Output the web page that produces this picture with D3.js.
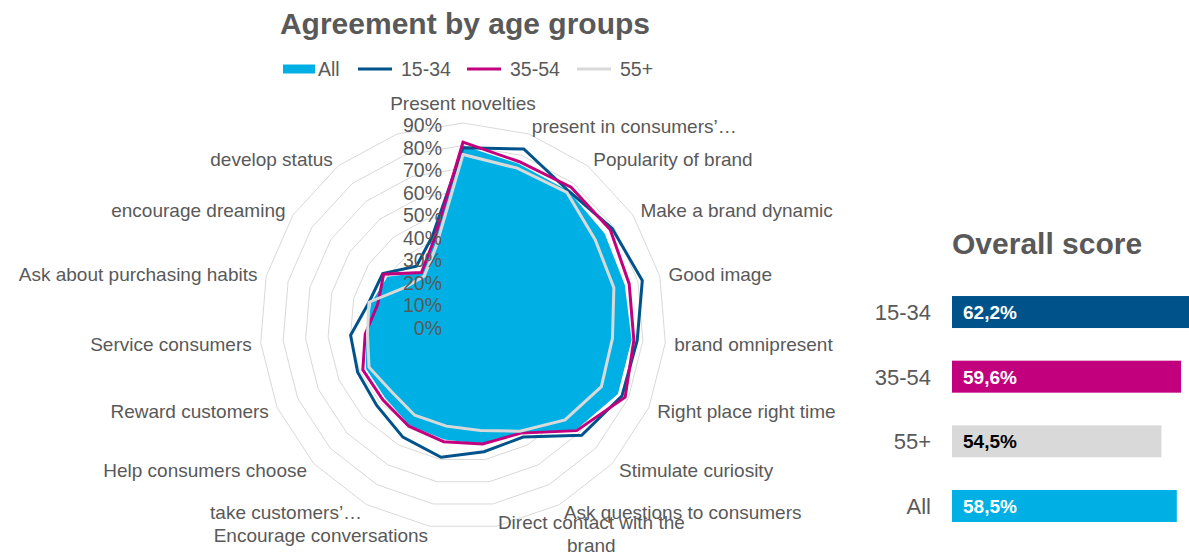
<!DOCTYPE html>
<html>
<head>
<meta charset="utf-8">
<script src="https://cdn.jsdelivr.net/npm/d3@7"></script>
<style>
  body { margin: 0; background: #fff; }
  svg { display: block; font-family: "Liberation Sans", Arial, sans-serif; }
</style>
</head>
<body>
<svg id="chart" width="1189" height="555"></svg>
<script>
// radar categories (last axis has no label in the original)
const categories = [
  "Present novelties",
  "present in consumers\u2019\u2026",
  "Popularity of brand",
  "Make a brand dynamic",
  "Good image",
  "brand omnipresent",
  "Right place right time",
  "Stimulate curiosity",
  "Ask questions to consumers",
  "Direct contact with the\nbrand",
  "Encourage conversations",
  "take customers\u2019\u2026",
  "Help consumers choose",
  "Reward customers",
  "Service consumers",
  "Ask about purchasing habits",
  "encourage dreaming",
  "develop status",
  ""
];
const allValues = [80, 76, 76, 75, 74, 75, 75, 68, 54, 53, 51, 50, 47, 47, 43, 42, 40, 30, 40];
const age1534 = [79, 83, 76, 79, 82, 77.5, 77, 71.5, 56, 56.5, 59, 56, 52, 51, 50, 43, 42.5, 33.6, 42];
const age3554 = [81.5, 77, 78, 78, 76, 76, 78.5, 68.5, 54, 53, 52, 50.5, 48.3, 48.5, 43.5, 39, 42, 30, 40];
const age55 = [76, 74, 75, 70, 69, 66.5, 67, 61.5, 53, 47, 45, 45, 43, 45.5, 42.5, 43, 31, 28, 37];
const radarTicks = [0, 10, 20, 30, 40, 50, 60, 70, 80, 90];

// overall score panel
const groups = ["15-34", "35-54", "55+", "All"];
const scores = [62.2, 59.6, 54.5, 58.5];

const legendItems = ["All", "15-34", "35-54", "55+"];

const colors = {
  "All": "#00b0e4",
  "15-34": "#00538a",
  "35-54": "#c2007e",
  "55+": "#d9d9d9"
};
const textColor = "#595959";

const svg = d3.select("#chart");

const cx = 463, cy = 326;
const rScale = d3.scaleLinear().domain([0, 90]).range([0, 203]);
const angle = d3.scaleLinear().domain([0, categories.length]).range([0, 2 * Math.PI]);

const radar = svg.append("g").attr("transform", `translate(${cx},${cy})`);

// grid rings
radar.selectAll("path.ring")
  .data(radarTicks.filter(t => t > 0))
  .enter()
  .append("path")
  .attr("class", "ring")
  .attr("d", t => d3.lineRadial()
    .angle((d, i) => angle(i))
    .radius(rScale(t))
    .curve(d3.curveLinearClosed)(categories))
  .style("fill", "none")
  .style("stroke", "#d9d9d9")
  .style("stroke-width", 1);

const radial = d3.lineRadial()
  .angle((d, i) => angle(i))
  .radius(d => rScale(d))
  .curve(d3.curveLinearClosed);

// All = filled area
radar.append("path")
  .attr("d", radial(allValues))
  .style("fill", colors["All"])
  .style("stroke", "none");

const lineSeries = [
  { name: "15-34", values: age1534 },
  { name: "35-54", values: age3554 },
  { name: "55+", values: age55 }
];

radar.selectAll("path.series")
  .data(lineSeries)
  .enter()
  .append("path")
  .attr("class", "series")
  .attr("d", d => radial(d.values))
  .style("fill", "none")
  .style("stroke", d => colors[d.name])
  .style("stroke-width", 3)
  .style("stroke-linejoin", "miter");

// radial tick labels
radar.selectAll("text.tick")
  .data(radarTicks)
  .enter()
  .append("text")
  .attr("class", "tick")
  .attr("x", -21)
  .attr("y", d => -rScale(d) + 9)
  .attr("text-anchor", "end")
  .style("font-size", "19.5px")
  .style("fill", textColor)
  .text(d => d + "%");

// category labels
const labelR = 212;
categories.forEach((c, i) => {
  if (!c) return;
  const a = angle(i);
  const s = Math.sin(a), co = Math.cos(a);
  const rr = co > 0.99 ? labelR + 11 : labelR;
  const x = rr * s, y = -rr * co;
  const anchor = Math.abs(s) < 0.05 ? "middle" : (s > 0 ? "start" : "end");
  const lines = c.split("\n");
  const lh = 23;
  const dy = lines.length > 1 ? 5 : 7;
  const t = radar.append("text")
    .attr("text-anchor", lines.length > 1 ? "middle" : anchor)
    .style("font-size", "19px")
    .style("fill", textColor);
  lines.forEach((ln, j) => {
    t.append("tspan")
      .attr("x", x)
      .attr("y", y + dy + (j - (lines.length - 1) / 2) * lh)
      .text(ln);
  });
  if (lines.length > 1) {
    // wrapped label: centre the lines inside a block anchored like the others
    const w = d3.max(t.selectAll("tspan").nodes(), n => n.getComputedTextLength());
    const shift = anchor === "start" ? w / 2 : (anchor === "end" ? -w / 2 : 0);
    t.selectAll("tspan").attr("x", x + shift);
  }
});

// title
svg.append("text")
  .attr("x", 465)
  .attr("y", 34)
  .attr("text-anchor", "middle")
  .style("font-size", "30px")
  .style("font-weight", "bold")
  .style("fill", textColor)
  .text("Agreement by age groups");

// legend
const legendX = { "All": 283, "15-34": 358, "35-54": 467, "55+": 577 };
const legend = svg.append("g");
legendItems.forEach(name => {
  const x0 = legendX[name];
  if (name === "All") {
    legend.append("rect")
      .attr("x", x0).attr("y", 64.5)
      .attr("width", 32).attr("height", 9)
      .style("fill", colors[name]);
  } else {
    legend.append("line")
      .attr("x1", x0).attr("x2", x0 + 34)
      .attr("y1", 69).attr("y2", 69)
      .style("stroke", colors[name])
      .style("stroke-width", 3);
  }
  legend.append("text")
    .attr("x", name === "All" ? x0 + 35 : x0 + 43)
    .attr("y", 76)
    .style("font-size", "19.5px")
    .style("fill", textColor)
    .text(name);
});

// overall score bars
svg.append("text")
  .attr("x", 952)
  .attr("y", 254)
  .style("font-size", "30px")
  .style("font-weight", "bold")
  .style("fill", textColor)
  .text("Overall score");

const xBar = d3.scaleLinear().domain([0, 100]).range([952, 952 + 384.3]);
const yBar = d3.scaleBand().domain(groups).range([279.7, 538.3])
  .paddingInner(0.505).paddingOuter(0.2525);
const fmt = d3.formatLocale({ decimal: ",", thousands: ".", grouping: [3], currency: ["", "\u20ac"] }).format(".1f");

const bars = svg.append("g");
bars.selectAll("rect")
  .data(groups)
  .enter()
  .append("rect")
  .attr("x", xBar(0))
  .attr("y", d => yBar(d))
  .attr("width", (d, i) => xBar(scores[i]) - xBar(0))
  .attr("height", yBar.bandwidth())
  .style("fill", d => colors[d]);

bars.selectAll("text.val")
  .data(groups)
  .enter()
  .append("text")
  .attr("class", "val")
  .attr("x", xBar(0) + 11)
  .attr("y", d => yBar(d) + yBar.bandwidth() / 2 + 7)
  .style("font-size", "19px")
  .style("font-weight", "bold")
  .style("fill", d => d === "55+" ? "#000" : "#fff")
  .text((d, i) => fmt(scores[i]) + "%");

bars.selectAll("text.cat")
  .data(groups)
  .enter()
  .append("text")
  .attr("class", "cat")
  .attr("x", 931)
  .attr("y", d => yBar(d) + yBar.bandwidth() / 2 + 8)
  .attr("text-anchor", "end")
  .style("font-size", "22px")
  .style("fill", textColor)
  .text(d => d);
</script>
</body>
</html>
